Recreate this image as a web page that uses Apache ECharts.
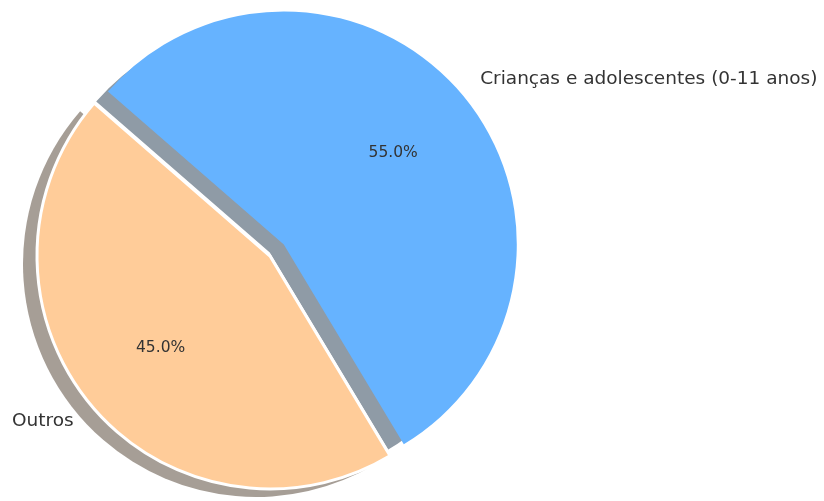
<!DOCTYPE html>
<html>
<head>
<meta charset="utf-8">
<script src="https://cdn.jsdelivr.net/npm/echarts@6/dist/echarts.min.js"></script>
<style>
html,body{margin:0;padding:0;background:#fff;}
#chart{width:824px;height:501px;}
</style>
</head>
<body>
<div id="chart"></div>
<script>
const categories = ['Crianças e adolescentes (0-11 anos)', 'Outros'];
const values = [55, 45];
const colors = ['#66b3ff', '#ffcc99'];
const shadowColors = ['#8f9ba6', '#a69e96'];
const exploded = [true, false];

const R = 233;
const C = [270, 256];
const SH = [-14, 8];
const EXPLODE = 18;
const START = 301;
const NONE = 'rgba(0,0,0,0)';

function mk(colorArr, extra) {
  return categories.map((name, i) => Object.assign({
    name: name,
    value: values[i],
    selected: exploded[i],
    itemStyle: { color: colorArr[i] }
  }, extra ? extra(i) : {}));
}

const common = {
  type: 'pie',
  radius: R,
  startAngle: START,
  clockwise: false,
  selectedMode: 'multiple',
  selectedOffset: EXPLODE,
  avoidLabelOverlap: false,
  animation: false,
  silent: true,
  emphasis: { disabled: true },
  label: { show: false },
  labelLine: { show: false }
};

const chart = echarts.init(document.getElementById('chart'), null, { renderer: 'canvas' });
chart.setOption({
  backgroundColor: '#fff',
  series: [
    // shadow of the exploded wedge
    Object.assign({}, common, {
      z: 1,
      radius: R - 3,
      center: [C[0] + SH[0], C[1] + SH[1]],
      data: mk([shadowColors[0], NONE])
    }),
    // shadow of the other wedge
    Object.assign({}, common, {
      z: 1,
      center: [C[0] + SH[0], C[1] + SH[1]],
      data: mk([NONE, shadowColors[1]])
    }),
    // wedges with outside labels
    Object.assign({}, common, {
      z: 2,
      center: C,
      label: {
        show: true,
        position: 'outside',
        color: '#333',
        fontFamily: 'DejaVu Sans',
        fontSize: 18.5,
        distanceToLabelLine: 0
      },
      labelLine: { show: false, length: R * 0.1, length2: 0 },
      data: mk(colors, i => ({
        itemStyle: {
          color: colors[i],
          borderColor: i === 1 ? '#fff' : NONE,
          borderWidth: i === 1 ? 3 : 0
        }
      }))
    }),
    // percentage labels at 0.6 R
    Object.assign({}, common, {
      z: 3,
      center: C,
      radius: R * 1.2,
      label: {
        show: true,
        position: 'inside',
        formatter: p => p.percent.toFixed(1) + '%',
        color: '#333',
        fontFamily: 'DejaVu Sans',
        fontSize: 15.5
      },
      data: mk([NONE, NONE])
    })
  ]
});
</script>
</body>
</html>
